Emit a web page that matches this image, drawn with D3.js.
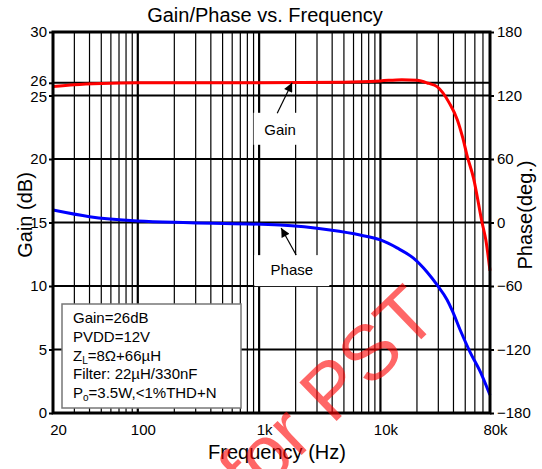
<!DOCTYPE html>
<html lang="en">
<head>
<meta charset="UTF-8">
<title>Gain/Phase vs. Frequency</title>
<script src="https://d3js.org/d3.v7.min.js"></script>
<style>
  body { margin: 0; background: #fff; }
  text { font-family: "Liberation Sans", Arial, sans-serif; fill: #000; }
</style>
</head>
<body>
<div id="chart"></div>
<script>
// Valeurs
const gainFreq = [20, 30, 50, 100, 1000, 5000, 10000, 15000, 20000, 25000, 29300, 37000, 43000, 47600, 52000, 58500, 68800, 74000, 80000];
const gainDb   = [25.7, 25.85, 25.95, 26.0, 26.0, 26.05, 26.15, 26.25, 26.2, 25.95, 25.7, 24.4, 23.1, 21.7, 20.2, 18.5, 15.0, 13.6, 11.2];

const phaseFreq = [20, 40, 100, 270, 1480, 3840, 6790, 10000, 13700, 18600, 24200, 29300, 35400, 39000, 46000, 54800, 67200, 80000];
const phaseDeg  = [11.8, 5.5, 1.4, -0.2, -2.4, -7.1, -11.8, -16.5, -24, -33.5, -46.8, -59, -73, -83, -103, -122.4, -142, -163];

const gainTicks = [0, 5, 10, 15, 20, 25, 26, 30];
const phaseTicks = [-180, -120, -60, 0, 60, 120, 180];
const freqTicks = [20, 100, 1000, 10000, 80000];
const freqTickLabels = ["20", "100", "1k", "10k", "80k"];

// lignes de la légende : [texte, indice, suite]
const legendLines = [
  ["Gain=26dB", "", ""],
  ["PVDD=12V", "", ""],
  ["Z", "L", "=8Ω+66µH"],
  ["Filter: 22µH/330nF", "", ""],
  ["P", "o", "=3.5W,<1%THD+N"]
];

// annotations : étiquette, queue et pointe de la flèche (fréquence, valeur)
const gainNote  = { label: "Gain",  at: [1490, 22.3], tail: [1410, 23.6], tip: [1870, 26.0] };
const phaseNote = { label: "Phase", at: [1860, -45], tail: [2020, -30.7], tip: [1520, -5.2] };

const W = 542, H = 469;
const plot = { left: 53, right: 490, top: 32, bottom: 413 };

const svg = d3.select("#chart").append("svg")
  .attr("width", W).attr("height", H);

const x = d3.scaleLog().domain([20, 80000]).range([plot.left, plot.right]);
const y = d3.scaleLinear().domain([0, 30]).range([plot.bottom, plot.top]);
const yPhase = d3.scaleLinear().domain([-180, 180]).range([plot.bottom, plot.top]);

// Grille verticale
const gridTicks = x.ticks().filter(f => f > 20 && f < 80000);
svg.append("g").selectAll("line")
  .data(gridTicks)
  .enter().append("line")
  .attr("x1", d => x(d)).attr("x2", d => x(d))
  .attr("y1", plot.top).attr("y2", plot.bottom)
  .attr("stroke", "#000")
  .attr("stroke-width", d => Number.isInteger(Math.log10(d)) ? 2.2 : 1.2);

// Grille horizontale
svg.append("g").selectAll("line")
  .data(gainTicks.filter(v => v > 0 && v < 30))
  .enter().append("line")
  .attr("x1", plot.left).attr("x2", plot.right)
  .attr("y1", d => y(d)).attr("y2", d => y(d))
  .attr("stroke", "#000").attr("stroke-width", 2);

// Boîte de légende
const legend = svg.append("g");
legend.append("rect")
  .attr("x", 62).attr("y", 304).attr("width", 179).attr("height", 104)
  .attr("fill", "#fff").attr("stroke", "#777").attr("stroke-width", 1.5);
legendLines.forEach((l, i) => {
  const t = legend.append("text")
    .attr("x", 73).attr("y", 323 + i * 18.8)
    .attr("font-size", 15);
  t.append("tspan").text(l[0]);
  if (l[1]) {
    t.append("tspan").attr("font-size", 10).attr("dy", 3).text(l[1]);
    t.append("tspan").attr("dy", -3).text(l[2]);
  }
});

// Étiquettes Gain / Phase sur fond blanc
[[gainNote, y, 53, 32, 17], [phaseNote, yPhase, 75, 31, 15]].forEach(([n, sy, bw, bh, off]) => {
  const cx = x(n.at[0]), cy = sy(n.at[1]);
  svg.append("rect")
    .attr("x", cx - bw / 2).attr("y", cy - off)
    .attr("width", bw).attr("height", bh)
    .attr("fill", "#fff");
  svg.append("text")
    .attr("x", cx).attr("y", cy + 5)
    .attr("text-anchor", "middle").attr("font-size", 15)
    .text(n.label);
});

// Courbes
const gainLine = d3.line()
  .x((d, i) => x(gainFreq[i]))
  .y(d => y(d))
  .curve(d3.curveMonotoneX);
svg.append("path")
  .attr("d", gainLine(gainDb))
  .attr("fill", "none").attr("stroke", "#ff0000").attr("stroke-width", 3);

const phaseLine = d3.line()
  .x((d, i) => x(phaseFreq[i]))
  .y(d => yPhase(d))
  .curve(d3.curveMonotoneX);
svg.append("path")
  .attr("d", phaseLine(phaseDeg))
  .attr("fill", "none").attr("stroke", "#0000ff").attr("stroke-width", 3);

// Flèches
svg.append("defs").append("marker")
  .attr("id", "arrow").attr("viewBox", "0 0 10 10")
  .attr("refX", 10).attr("refY", 5)
  .attr("markerWidth", 11).attr("markerHeight", 9)
  .attr("markerUnits", "userSpaceOnUse")
  .attr("orient", "auto")
  .append("path").attr("d", "M0,0 L10,5 L0,10 Z").attr("fill", "#000");

[[gainNote, y], [phaseNote, yPhase]].forEach(([n, sy]) => {
  svg.append("line")
    .attr("x1", x(n.tail[0])).attr("y1", sy(n.tail[1]))
    .attr("x2", x(n.tip[0])).attr("y2", sy(n.tip[1]))
    .attr("stroke", "#000").attr("stroke-width", 1.2)
    .attr("marker-end", "url(#arrow)");
});

// Axes
const axisLeft = svg.append("g")
  .attr("transform", `translate(${plot.left},0)`)
  .call(d3.axisLeft(y).tickValues(gainTicks).tickSize(4).tickSizeOuter(0).tickPadding(2));
const axisRight = svg.append("g")
  .attr("transform", `translate(${plot.right},0)`)
  .call(d3.axisRight(yPhase).tickValues(phaseTicks).tickSize(4).tickSizeOuter(0).tickPadding(3));
const axisBottom = svg.append("g")
  .attr("transform", `translate(0,${plot.bottom})`)
  .call(d3.axisBottom(x).tickValues(freqTicks)
    .tickFormat((d, i) => freqTickLabels[i]).tickSize(0).tickPadding(11));

[axisLeft, axisRight, axisBottom].forEach(a => {
  a.select(".domain").remove();
  a.selectAll("line").attr("stroke", "#000").attr("stroke-width", 2);
  a.selectAll("text").attr("font-size", 15).attr("fill", "#000")
    .style("font-family", '"Liberation Sans", Arial, sans-serif');
});
axisBottom.selectAll("text").attr("dx", 5);
// 26 et 25 sont très proches : on les écarte d'un pixel
axisLeft.selectAll(".tick text").attr("dy", d => d === 26 ? "0.2em" : d === 25 ? "0.4em" : "0.32em");

// Cadre
svg.append("rect")
  .attr("x", plot.left).attr("y", plot.top)
  .attr("width", plot.right - plot.left).attr("height", plot.bottom - plot.top)
  .attr("fill", "none").attr("stroke", "#000").attr("stroke-width", 3);

// Titres
svg.append("text")
  .attr("x", 265).attr("y", 22).attr("text-anchor", "middle")
  .attr("font-size", 20).text("Gain/Phase vs. Frequency");
svg.append("text")
  .attr("x", 277).attr("y", 459).attr("text-anchor", "middle")
  .attr("font-size", 20).text("Frequency (Hz)");
svg.append("text")
  .attr("transform", "translate(32,215) rotate(-90)").attr("text-anchor", "middle")
  .attr("font-size", 20).text("Gain (dB)");
svg.append("text")
  .attr("transform", "translate(532,215) rotate(-90)").attr("text-anchor", "middle")
  .attr("font-size", 20).text("Phase(deg.)");

// Filigrane
svg.append("text")
  .attr("transform", "translate(346,412) rotate(-44)")
  .attr("text-anchor", "middle").attr("font-size", 78)
  .attr("fill-opacity", 0.6)
  .style("fill", "#ff0000")
  .text("for PST");
</script>
</body>
</html>
